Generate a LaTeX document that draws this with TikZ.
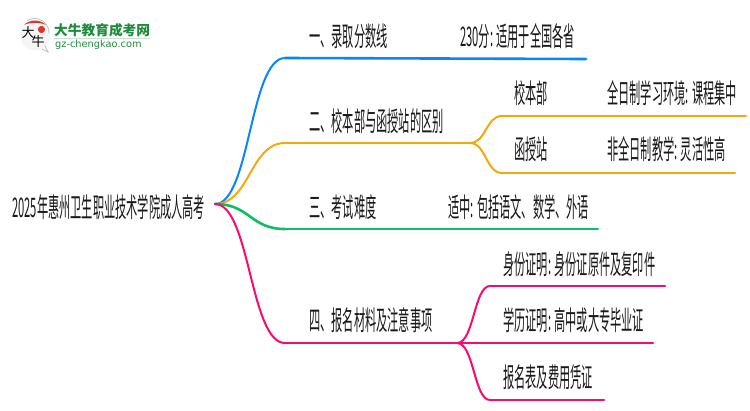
\documentclass[tikz,border=0pt]{standalone}
\usepackage{fontspec}
\usepackage{tikz}
\usepackage{xcolor}
\newfontfamily\cjkthin[FakeStretch=0.415]{Noto Sans CJK SC}
\newfontfamily\cjklogo{Noto Sans CJK SC}
\newfontfamily\latinlogo{DejaVu Sans}
\definecolor{blueline}{HTML}{0A84FF}
\definecolor{orangeline}{HTML}{F5A80C}
\definecolor{greenline}{HTML}{0CBF66}
\definecolor{pinkline}{HTML}{FA0A6E}
\definecolor{logogreen}{HTML}{1E8A3C}
\definecolor{logored}{HTML}{D9372C}

\begin{document}
\begin{tikzpicture}[x=1pt,y=-1pt,line cap=round,
                label node/.style={anchor=west,inner sep=0pt,text=black!90,font=\cjkthin\fontsize{27}{27}\selectfont},
                curve/.style={line width=2pt},
                rule/.style={line width=2.6pt}]
  \useasboundingbox (0,0) rectangle (750,410);

  % logo
  \fill[black!4] (35,36) circle (14.5);
  \draw[black!25,line width=0.8pt] (49,33) arc (0:-120:14.5) (42,49) -- (48,52) -- (45,46);
  \fill[logored] (24,25) .. controls (30,19) and (40,19) .. (46,25) .. controls (40,22) and (30,22) .. (24,25) -- cycle;
  \fill[logored] (41.5,29.5) circle (3.6);
  \node[inner sep=0pt,font=\cjklogo\fontsize{13}{13}\selectfont] (logo1) at (28,33) {大};
  \node[inner sep=0pt,font=\cjklogo\fontsize{13}{13}\selectfont] (logo2) at (38,42) {牛};
  \node[anchor=west,inner sep=0pt,text=logogreen,font=\cjklogo\bfseries\fontsize{13.7}{14}\selectfont] (logo3) at (54,30) {大牛教育成考网};
  \draw[logogreen!25,line width=0.8pt] (54,38.5) -- (150,38.5);
  \node[anchor=west,inner sep=0pt,text=logogreen,font=\latinlogo\fontsize{9.8}{10}\selectfont] (logo4) at (55,45) {gz-chengkao.com};

  % labels
  \node[label node] (root) at (12,207) {2025年惠州卫生职业技术学院成人高考};
  \node[label node] (b1) at (309,36) {一、录取分数线};
  \node[label node] (b1a) at (460,36) {230分: 适用于全国各省};
  \node[label node] (b2) at (309,121) {二、校本部与函授站的区别};
  \node[label node] (b2a) at (514,93) {校本部};
  \node[label node] (b2b) at (514,149) {函授站};
  \node[label node] (b2c) at (607,93) {全日制学习环境: 课程集中};
  \node[label node] (b2d) at (607,149) {非全日制教学: 灵活性高};
  \node[label node] (b3) at (309,207) {三、考试难度};
  \node[label node] (b3a) at (448,207) {适中: 包括语文、数学、外语};
  \node[label node] (b4) at (309,320) {四、报名材料及注意事项};
  \node[label node] (b4a) at (503,264) {身份证明: 身份证原件及复印件};
  \node[label node] (b4b) at (503,320) {学历证明: 高中或大专毕业证};
  \node[label node] (b4c) at (503,377) {报名表及费用凭证};

  % line ends
  \coordinate (start) at (215,204);
  \coordinate (c1) at (285,58);   \coordinate (e1) at (586,59);
  \coordinate (c2) at (285,143);  \coordinate (j2) at (470,143);
  \coordinate (c2a) at (502,116); \coordinate (e2a) at (746,116);
  \coordinate (c2b) at (502,173); \coordinate (e2b) at (735,173);
  \coordinate (c3) at (285,229);  \coordinate (e3) at (598,229);
  \coordinate (c4) at (285,343);  \coordinate (j4) at (457,343);
  \coordinate (c4a) at (490,286); \coordinate (e4a) at (665,286);
  \coordinate (e4b) at (653,343);
  \coordinate (c4c) at (490,400); \coordinate (e4c) at (604,400);

  \draw[curve,blueline] (start) .. controls (250,204) and (250,58) .. (c1);
  \draw[rule,blueline] (c1) -- (e1);

  \draw[curve,orangeline] (start) .. controls (250,204) and (250,143) .. (c2);
  \draw[rule,orangeline] (c2) -- (j2);
  \draw[curve,orangeline] (j2) .. controls (486,143) and (486,116) .. (c2a);
  \draw[curve,orangeline] (j2) .. controls (486,143) and (486,173) .. (c2b);
  \draw[rule,orangeline] (c2a) -- (e2a);
  \draw[rule,orangeline] (c2b) -- (e2b);

  \draw[rule,greenline] (start) .. controls (250,204) and (250,229) .. (c3);
  \draw[rule,greenline] (c3) -- (e3);

  \draw[curve,pinkline] (start) .. controls (250,204) and (250,343) .. (c4);
  \draw[rule,pinkline] (c4) -- (j4);
  \draw[curve,pinkline] (j4) .. controls (474,343) and (474,286) .. (c4a);
  \draw[rule,pinkline] (j4) -- (e4b);
  \draw[curve,pinkline] (j4) .. controls (474,343) and (474,400) .. (c4c);
  \draw[rule,pinkline] (c4a) -- (e4a);
  \draw[rule,pinkline] (c4c) -- (e4c);
\end{tikzpicture}
\end{document}
